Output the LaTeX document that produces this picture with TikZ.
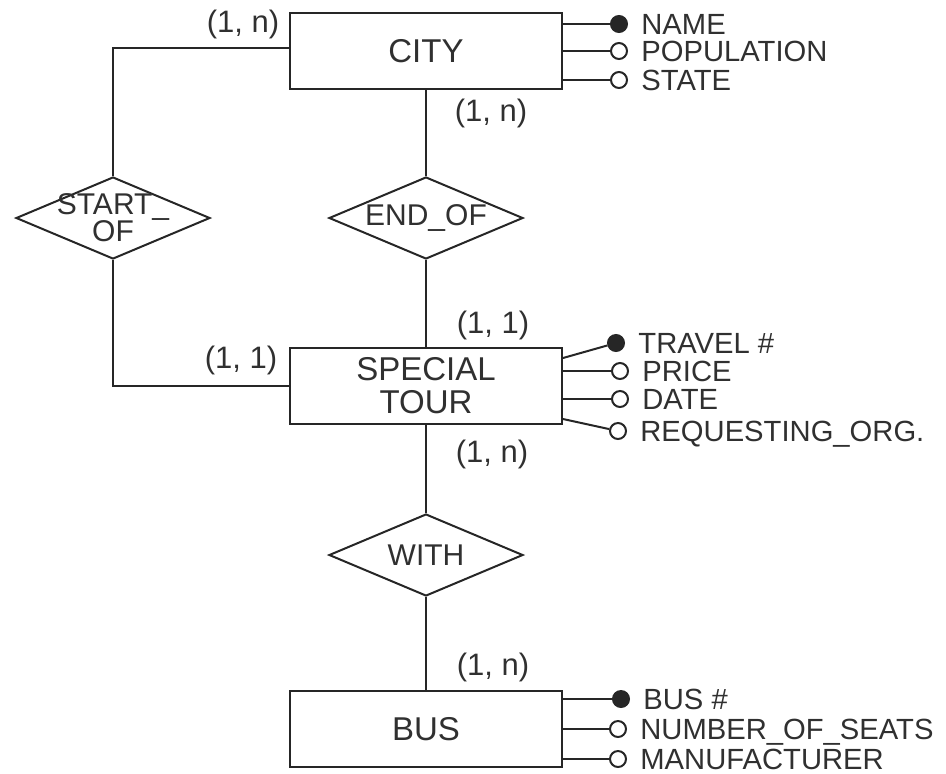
\documentclass[tikz,border=0pt]{standalone}
\usepackage{fontspec}
\setmainfont{Liberation Sans}
\usepackage{xcolor}
\definecolor{inkgray}{HTML}{262626}
\definecolor{textgray}{HTML}{303030}
\usepackage{tikz}
\usetikzlibrary{positioning,shapes.geometric}

\begin{document}
\begin{tikzpicture}[
  entity/.style={draw=inkgray,line width=1pt,minimum width=136pt,minimum height=38pt,align=center,text=textgray,font=\fontsize{16.5}{16.5}\selectfont},
  rel/.style={diamond,draw=inkgray,line width=1pt,minimum width=97pt,minimum height=41pt,inner sep=0pt,label={[relname]center:#1}},
  relname/.style={align=center,text=textgray,font=\fontsize{15}{13.5}\selectfont},
  card/.style={text=textgray,font=\fontsize{15.5}{16}\selectfont,inner sep=0pt},
  attr/.style={circle,draw=inkgray,line width=1pt,fill=white,inner sep=0pt,minimum size=8pt,label={[attrname]right:#1}},
  keyattr/.style={attr={#1},fill=inkgray},
  attrname/.style={text=textgray,font=\fontsize{14.6}{16}\selectfont,inner sep=1pt,xshift=5.5pt,text height=10.4pt,text depth=0pt},
  conn/.style={draw=inkgray,line width=1pt}]
\useasboundingbox (0,0) rectangle (473pt,-386.5pt);
\node[entity] (city) at (213pt,-25.5pt) {CITY};
\node[rel={END\_OF},below=43pt of city] (endof) {};
\node[rel={START\_\\OF},left=58.5pt of endof] (startof) {};
\node[entity,below=43.5pt of endof] (tour) {SPECIAL\\TOUR};
\node[rel={WITH},below=44pt of tour] (withrel) {};
\node[entity,below=46.5pt of withrel] (bus) {BUS};

\node[card] (cityleft) at ([xshift=-23pt,yshift=-6pt]city.north west) {(1, n)};
\node[card] (citydown) at ([xshift=32.5pt,yshift=-11.5pt]city.south) {(1, n)};
\node[card] (tourleft) at ([xshift=-24pt,yshift=-6.5pt]tour.north west) {(1, 1)};
\node[card] (tourup) at ([xshift=33.5pt,yshift=11pt]tour.north) {(1, 1)};
\node[card] (tourdown) at ([xshift=33pt,yshift=-14.5pt]tour.south) {(1, n)};
\node[card] (busup) at ([xshift=33.5pt,yshift=11.5pt]bus.north) {(1, n)};

\node[keyattr=NAME] (name) at ([xshift=28pt,yshift=13.5pt]city.east) {};
\node[attr=POPULATION] (population) at ([xshift=28pt]city.east) {};
\node[attr=STATE] (state) at ([xshift=28pt,yshift=-14.5pt]city.east) {};
\node[keyattr={TRAVEL \#}] (travel) at ([xshift=26.5pt,yshift=21.5pt]tour.east) {};
\node[attr=PRICE] (price) at ([xshift=28.5pt,yshift=7.5pt]tour.east) {};
\node[attr=DATE] (date) at ([xshift=28.5pt,yshift=-6.5pt]tour.east) {};
\node[attr={REQUESTING\_ORG.}] (reqorg) at ([xshift=27.5pt,yshift=-22.5pt]tour.east) {};
\node[keyattr={BUS \#}] (busno) at ([xshift=29pt,yshift=15pt]bus.east) {};
\node[attr={NUMBER\_OF\_SEATS}] (seats) at ([xshift=27.5pt]bus.east) {};
\node[attr=MANUFACTURER] (maker) at ([xshift=27.5pt,yshift=-15pt]bus.east) {};

\draw[conn] ([yshift=1.5pt]city.west) -| (startof.north);
\draw[conn] (city) -- (endof);
\draw[conn] (endof) -- (tour);
\draw[conn] (startof.south) |- (tour.west);
\draw[conn] (tour) -- (withrel);
\draw[conn] (withrel) -- (bus);
\draw[conn] (city.east |- name) -- (name);
\draw[conn] (city.east |- population) -- (population);
\draw[conn] (city.east |- state) -- (state);
\draw[conn] ([yshift=14pt]tour.east) -- (travel);
\draw[conn] (tour.east |- price) -- (price);
\draw[conn] (tour.east |- date) -- (date);
\draw[conn] ([yshift=-16.5pt]tour.east) -- (reqorg);
\draw[conn] (bus.east |- busno) -- (busno);
\draw[conn] (bus.east |- seats) -- (seats);
\draw[conn] (bus.east |- maker) -- (maker);
\end{tikzpicture}
\end{document}
